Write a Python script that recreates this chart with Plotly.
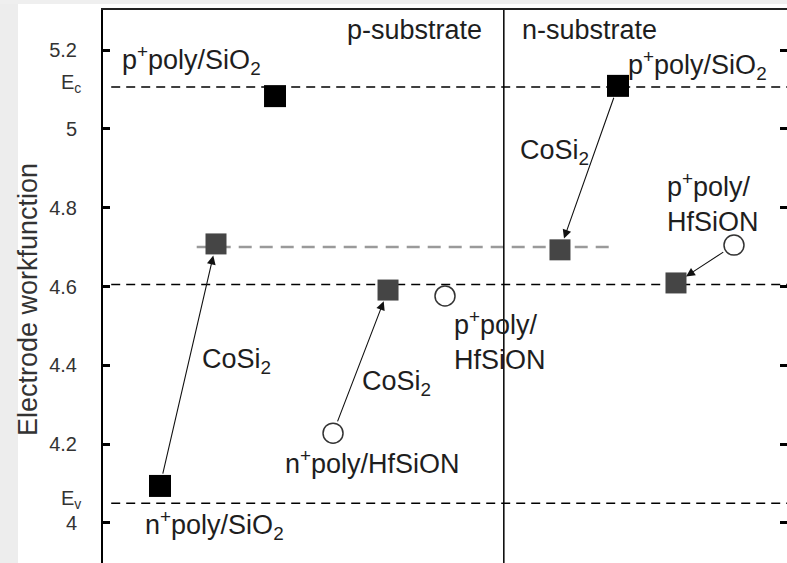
import plotly.graph_objects as go

# ---- data ----
black_sq_x = [0.833, 2.515, 7.529]
black_sq_y = [4.094, 5.083, 5.109]
gray_sq_x = [1.652, 4.167, 6.681, 8.377]
gray_sq_y = [4.708, 4.591, 4.693, 4.609]
circ_x = [3.363, 5.000, 9.225]
circ_y = [4.228, 4.576, 4.705]

# arrows: (start series, index) -> (end series, index)
arrows = [(("black", 0), ("gray", 0)),
          (("circ", 0), ("gray", 1)),
          (("black", 2), ("gray", 2)),
          (("circ", 2), ("gray", 3))]

ytick_vals = [4.0, 4.2, 4.4, 4.6, 4.8, 5.0, 5.2]
ytick_text = ["4", "4.2", "4.4", "4.6", "4.8", "5", "5.2"]

Ec = 5.106
Ev = 4.050
mid_level = 4.605
gray_level = 4.700
gray_span = [1.37, 7.43]
divider_x = 5.86

W, H = 787, 563
L, T, R, B = 103, 10, 0, 0
X_RANGE = [0, 10]
Y_RANGE = [3.8985, 5.3015]

FONT = "Liberation Sans, Arial, sans-serif"
TXT = "#1e1e1e"

pts = {"black": (black_sq_x, black_sq_y), "gray": (gray_sq_x, gray_sq_y), "circ": (circ_x, circ_y)}

fig = go.Figure()

# horizontal reference lines
for lvl in (Ec, mid_level, Ev):
    fig.add_trace(go.Scatter(x=[0.12, 10], y=[lvl, lvl], mode="lines",
                             line=dict(color="black", width=1.5, dash="9px,6px"),
                             hoverinfo="skip", showlegend=False))
fig.add_trace(go.Scatter(x=gray_span, y=[gray_level, gray_level], mode="lines",
                         line=dict(color="#9a9a9a", width=2.5, dash="13px,8px"),
                         hoverinfo="skip", showlegend=False))
# divider
fig.add_trace(go.Scatter(x=[divider_x, divider_x], y=Y_RANGE, mode="lines",
                         line=dict(color="black", width=1.5),
                         hoverinfo="skip", showlegend=False))

fig.add_trace(go.Scatter(x=black_sq_x, y=black_sq_y, mode="markers",
                         marker=dict(symbol="square", size=22, color="black",
                                     line=dict(width=0)), showlegend=False))
fig.add_trace(go.Scatter(x=gray_sq_x, y=gray_sq_y, mode="markers",
                         marker=dict(symbol="square", size=21, color="#454545",
                                     line=dict(width=0)), showlegend=False))
fig.add_trace(go.Scatter(x=circ_x, y=circ_y, mode="markers",
                         marker=dict(symbol="circle", size=20, color="white",
                                     line=dict(width=1.5, color="#333333")),
                         showlegend=False))

# invisible trace on right axis for mirror ticks
fig.add_trace(go.Scatter(x=[None], y=[None], yaxis="y2", showlegend=False))

annotations = []
for (s0, i0), (s1, i1) in arrows:
    annotations.append(dict(
        x=pts[s1][0][i1], y=pts[s1][1][i1],
        ax=pts[s0][0][i0], ay=pts[s0][1][i0],
        xref="x", yref="y", axref="x", ayref="y",
        showarrow=True, arrowhead=2, arrowsize=1.6, arrowwidth=1.1,
        arrowcolor="#111111", standoff=12, startstandoff=11, text=""))

def lab(text, x, y, align="left"):
    annotations.append(dict(text=text, x=x, y=y, xref="x", yref="y",
                            xanchor="left", yanchor="middle", showarrow=False,
                            align=align, font=dict(family=FONT, size=27, color=TXT)))

SUB2 = "<sub>2</sub>"
lab("p<sup>+</sup>poly/SiO" + SUB2, 0.249, 5.175)
lab("p-substrate", 3.538, 5.251)
lab("n-substrate", 6.096, 5.251)
lab("p<sup>+</sup>poly/SiO" + SUB2, 7.646, 5.163)
lab("CoSi" + SUB2, 1.418, 4.412)
lab("CoSi" + SUB2, 3.757, 4.354)
lab("CoSi" + SUB2, 6.067, 4.942)
lab("p<sup>+</sup>poly/<br>HfSiON", 8.216, 4.812)
lab("p<sup>+</sup>poly/<br>HfSiON", 5.102, 4.464)
lab("n<sup>+</sup>poly/HfSiON", 2.632, 4.155)
lab("n<sup>+</sup>poly/SiO" + SUB2, 0.585, 3.995)

# band-edge labels on the left
for name, lvl in (("E<sub>c</sub>", Ec), ("E<sub>v</sub>", Ev)):
    annotations.append(dict(text=name, x=0, y=lvl, xref="paper", yref="y",
                            xanchor="right", yanchor="middle", xshift=-20, yshift=4,
                            showarrow=False, font=dict(family=FONT, size=20, color="#333333")))

# axis title (placed in the left margin)
annotations.append(dict(text="Electrode workfunction",
                        x=(28 - L) / (W - L - R), y=1 - (300 - T) / (H - T - B),
                        xref="paper", yref="paper",
                        xanchor="center", yanchor="middle", textangle=-90, showarrow=False,
                        font=dict(family=FONT, size=27, color="#333333")))

shapes = [
    dict(type="rect", xref="paper", yref="paper",
         x0=-L / (W - L - R), x1=(18 - L) / (W - L - R), y0=-0.01, y1=1 + T / (H - T - B),
         fillcolor="#ededed", line=dict(width=0), layer="below"),
    dict(type="rect", xref="paper", yref="paper",
         x0=-L / (W - L - R), x1=1, y0=1 + (T - 4) / (H - T - B), y1=1 + T / (H - T - B),
         fillcolor="#efefef", line=dict(width=0), layer="below"),
]

fig.update_layout(
    width=W, height=H,
    margin=dict(l=L, r=R, t=T, b=B, pad=0),
    paper_bgcolor="white", plot_bgcolor="white",
    showlegend=False,
    annotations=annotations,
    shapes=shapes,
    xaxis=dict(range=X_RANGE, side="top", showline=True, linecolor="#222222", linewidth=2,
               showgrid=False, zeroline=False, ticks="", showticklabels=False, fixedrange=True),
    yaxis=dict(range=Y_RANGE, tickvals=ytick_vals, ticktext=ytick_text,
               showline=True, linecolor="black", linewidth=2,
               ticks="inside", ticklen=7, tickwidth=2.5, tickcolor="black",
               showgrid=False, zeroline=False, ticklabelstandoff=20,
               tickfont=dict(family=FONT, size=20, color="#333333")),
    yaxis2=dict(range=Y_RANGE, overlaying="y", side="right", tickvals=ytick_vals,
                ticks="inside", ticklen=7, tickwidth=2.5, tickcolor="black",
                showticklabels=False, showline=False, showgrid=False, zeroline=False),
)

fig.write_html("out.html")
